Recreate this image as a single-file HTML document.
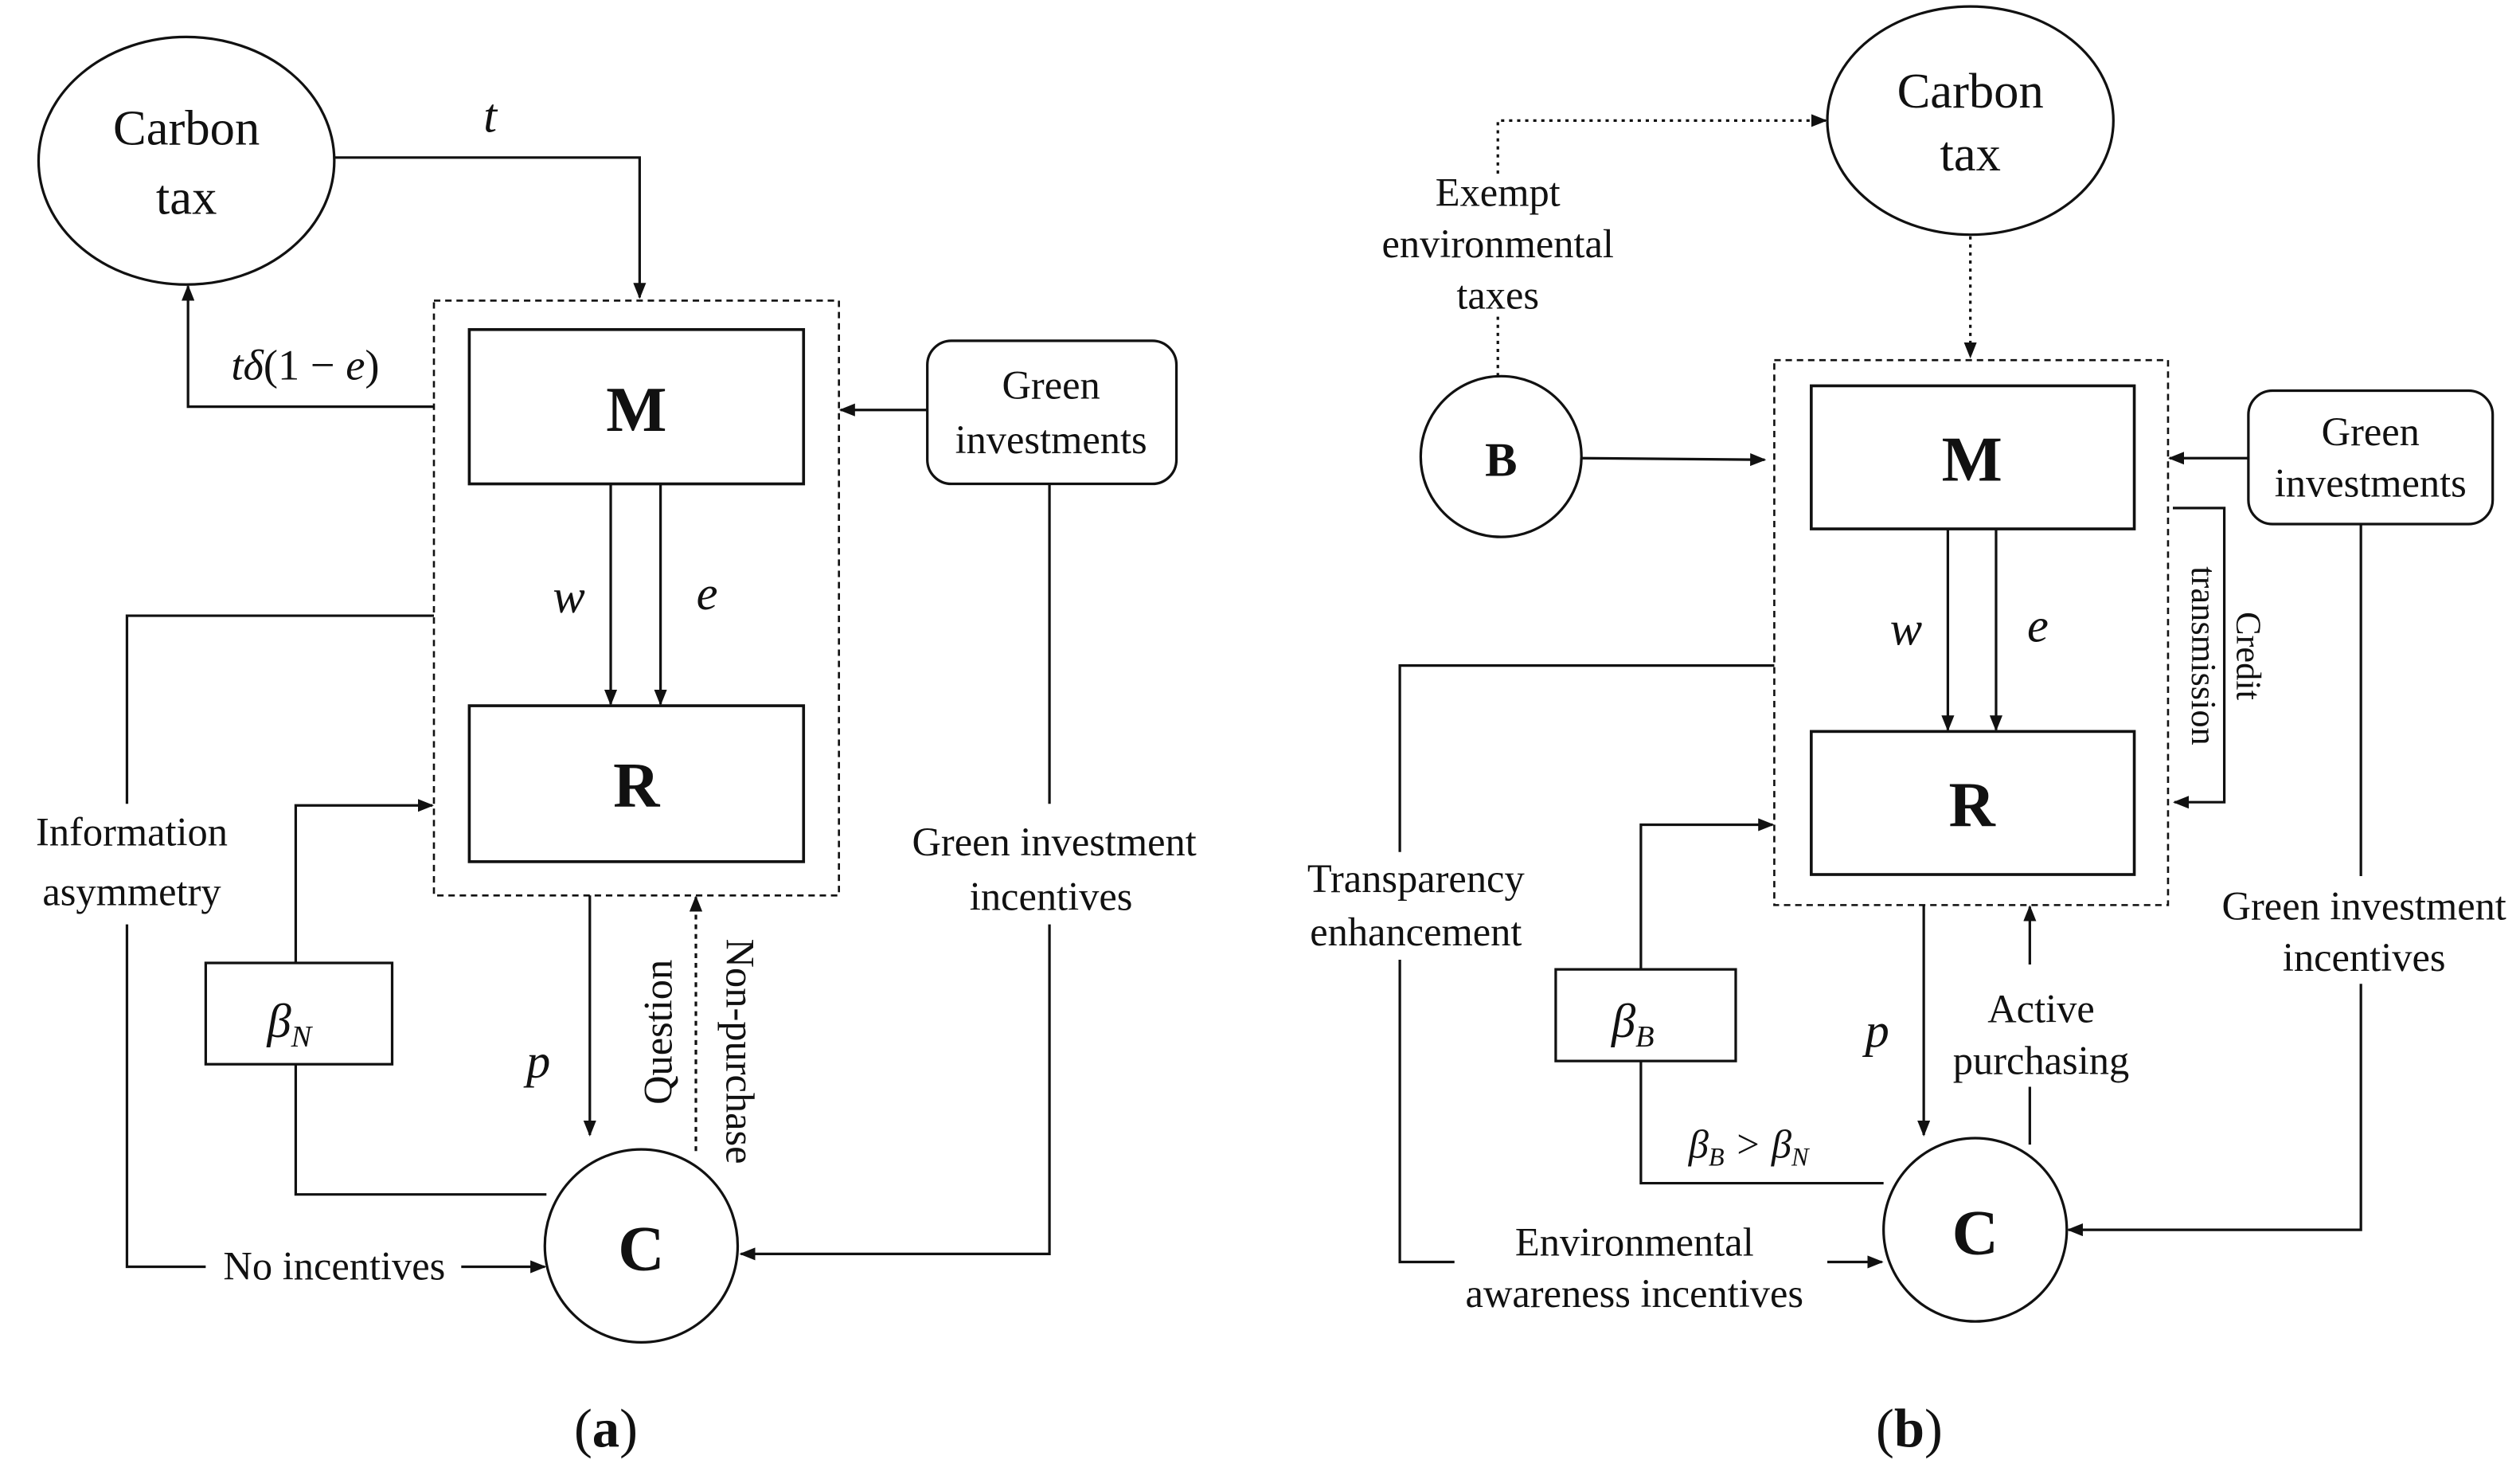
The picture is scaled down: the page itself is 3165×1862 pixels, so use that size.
<!DOCTYPE html>
<html><head><meta charset="utf-8"><style>
html,body{margin:0;padding:0;background:#fff;}
svg{display:block;}
text{font-family:"Liberation Serif",serif;fill:#111;}
.l{font-size:25px;text-anchor:middle;}
.big{font-size:31px;text-anchor:middle;}
.b{font-size:40px;font-weight:bold;text-anchor:middle;}
.i{font-style:italic;font-size:30px;text-anchor:middle;}
</style></head><body>
<svg width="3165" height="1862" viewBox="0 0 1568 922.5" preserveAspectRatio="none">
<defs><marker id="a" markerWidth="10" markerHeight="8" refX="9" refY="4" orient="auto" markerUnits="userSpaceOnUse"><path d="M0,0 L10,4 L0,8 z" fill="#111"/></marker></defs>
<g stroke="#111" stroke-width="1.6" fill="none">
<!-- Panel a -->
<ellipse cx="116" cy="100" rx="92" ry="77"/>
<polyline points="208,98 398,98 398,185" marker-end="url(#a)"/>
<rect x="270" y="187" width="252" height="370" stroke-dasharray="4,3" stroke-width="1.3"/>
<rect x="292" y="205" width="208" height="96" stroke-width="1.8"/>
<rect x="292" y="439" width="208" height="97" stroke-width="1.8"/>
<line x1="380" y1="301" x2="380" y2="438" marker-end="url(#a)"/>
<line x1="411" y1="301" x2="411" y2="438" marker-end="url(#a)"/>
<polyline points="270,253 117,253 117,178" marker-end="url(#a)"/>
<rect x="577" y="212" width="155" height="89" rx="15"/>
<line x1="577" y1="255" x2="523" y2="255" marker-end="url(#a)"/>
<line x1="653" y1="301" x2="653" y2="500"/>
<polyline points="653,575 653,780 461,780" marker-end="url(#a)"/>
<circle cx="399" cy="775" r="60"/>
<polyline points="270,383 79,383 79,500"/>
<polyline points="79,575 79,788 128,788"/>
<line x1="287" y1="788" x2="339" y2="788" marker-end="url(#a)"/>
<rect x="128" y="599" width="116" height="63"/>
<polyline points="184,599 184,501 269,501" marker-end="url(#a)"/>
<polyline points="184,662 184,743 340,743"/>
<line x1="367" y1="557" x2="367" y2="706" marker-end="url(#a)"/>
<line x1="433" y1="716" x2="433" y2="558" stroke-dasharray="3,3" marker-end="url(#a)"/>
<!-- Panel b -->
<ellipse cx="1226" cy="75" rx="89" ry="71"/>
<polyline points="932,108 932,75 1136,75" stroke-dasharray="2,3" marker-end="url(#a)"/>
<line x1="932" y1="197" x2="932" y2="234" stroke-dasharray="2,3"/>
<line x1="1226" y1="147" x2="1226" y2="222" stroke-dasharray="2,3" marker-end="url(#a)"/>
<rect x="1104" y="224" width="245" height="339" stroke-dasharray="4,3" stroke-width="1.3"/>
<rect x="1127" y="240" width="201" height="89" stroke-width="1.8"/>
<rect x="1127" y="455" width="201" height="89" stroke-width="1.8"/>
<line x1="1212" y1="329" x2="1212" y2="454" marker-end="url(#a)"/>
<line x1="1242" y1="329" x2="1242" y2="454" marker-end="url(#a)"/>
<circle cx="934" cy="284" r="50"/>
<line x1="984" y1="285" x2="1098" y2="286" marker-end="url(#a)"/>
<rect x="1399" y="243" width="152" height="83" rx="15"/>
<line x1="1399" y1="285" x2="1350" y2="285" marker-end="url(#a)"/>
<line x1="1469" y1="326" x2="1469" y2="545"/>
<polyline points="1469,612 1469,765 1287,765" marker-end="url(#a)"/>
<polyline points="1352,316 1384,316 1384,499 1353,499" marker-end="url(#a)"/>
<circle cx="1229" cy="765" r="57"/>
<polyline points="1104,414 871,414 871,530"/>
<polyline points="871,597 871,785 905,785"/>
<line x1="1137" y1="785" x2="1171" y2="785" marker-end="url(#a)"/>
<rect x="968" y="603" width="112" height="57"/>
<polyline points="1021,603 1021,513 1103,513" marker-end="url(#a)"/>
<polyline points="1021,660 1021,736 1172,736"/>
<line x1="1197" y1="563" x2="1197" y2="706" marker-end="url(#a)"/>
<line x1="1263" y1="600" x2="1263" y2="564" marker-end="url(#a)"/>
<line x1="1263" y1="712" x2="1263" y2="676"/>
</g>
<!-- text a -->
<text class="big" x="116" y="90">Carbon</text>
<text class="big" x="116" y="133">tax</text>
<text class="i" x="305" y="82">t</text>
<text class="i" x="190" y="236" style="font-size:27px">tδ<tspan font-style="normal">(1 − </tspan>e<tspan font-style="normal">)</tspan></text>
<text class="b" x="396" y="268">M</text>
<text class="b" x="396" y="502">R</text>
<text class="b" x="399" y="790">C</text>
<text class="i" x="354" y="381">w</text>
<text class="i" x="440" y="379">e</text>
<text class="l" x="654" y="248">Green</text>
<text class="l" x="654" y="282">investments</text>
<text class="l" x="656" y="532">Green investment</text>
<text class="l" x="654" y="566">incentives</text>
<text class="l" x="82" y="526">Information</text>
<text class="l" x="82" y="563">asymmetry</text>
<text class="l" x="208" y="796">No incentives</text>
<text class="i" x="180" y="645">β<tspan style="font-size:19px" dy="6">N</tspan></text>
<text class="i" x="335" y="670">p</text>
<text class="l" transform="translate(418,642) rotate(-90)">Question</text>
<text class="l" transform="translate(452,654) rotate(90)">Non-purchase</text>
<text x="377" y="900" style="font-size:34px;text-anchor:middle">(<tspan font-weight="bold">a</tspan>)</text>
<!-- text b -->
<text class="big" x="1226" y="67">Carbon</text>
<text class="big" x="1226" y="106">tax</text>
<text class="l" x="932" y="128">Exempt</text>
<text class="l" x="932" y="160">environmental</text>
<text class="l" x="932" y="192">taxes</text>
<text x="934" y="296" style="font-size:30px;font-weight:bold;text-anchor:middle">B</text>
<text class="b" x="1227" y="299">M</text>
<text class="b" x="1227" y="514">R</text>
<text class="b" x="1229" y="780">C</text>
<text class="i" x="1186" y="401">w</text>
<text class="i" x="1268" y="399">e</text>
<text class="l" x="1475" y="277">Green</text>
<text class="l" x="1475" y="309">investments</text>
<text class="l" x="1471" y="572">Green investment</text>
<text class="l" x="1471" y="604">incentives</text>
<text x="0" y="0" class="l" style="font-size:22px" transform="translate(1392,408) rotate(90)">Credit</text>
<text x="0" y="0" class="l" style="font-size:22px" transform="translate(1364,408) rotate(90)">transmission</text>
<text class="l" x="881" y="555">Transparency</text>
<text class="l" x="881" y="588">enhancement</text>
<text class="l" x="1017" y="781">Environmental</text>
<text class="l" x="1017" y="813">awareness incentives</text>
<text class="i" x="1016" y="645">β<tspan style="font-size:19px" dy="6">B</tspan></text>
<text class="i" x="1088" y="720" style="font-size:25px">β<tspan style="font-size:16px" dy="5">B</tspan><tspan dy="-5"> &gt; β</tspan><tspan style="font-size:16px" dy="5">N</tspan></text>
<text class="i" x="1168" y="651">p</text>
<text class="l" x="1270" y="636">Active</text>
<text class="l" x="1270" y="668">purchasing</text>
<text x="1188" y="900" style="font-size:34px;text-anchor:middle">(<tspan font-weight="bold">b</tspan>)</text>
</svg>
</body></html>
